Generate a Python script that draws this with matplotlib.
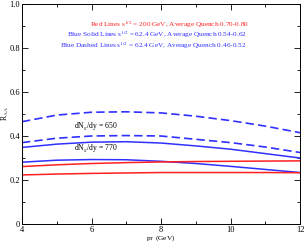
import matplotlib
matplotlib.use("Agg")
import matplotlib.pyplot as plt
from matplotlib.ticker import MultipleLocator

plt.rcParams['font.family'] = ['Liberation Serif', 'DejaVu Serif']
plt.rcParams['mathtext.fontset'] = 'stix'

pt = [4, 5, 6, 7, 8, 9, 10, 11, 12]

# blue dashed (62.4 GeV, quench 0.46-0.52)
dash_650 = [0.465, 0.495, 0.508, 0.510, 0.505, 0.490, 0.470, 0.445, 0.415]
dash_770 = [0.370, 0.390, 0.400, 0.402, 0.400, 0.385, 0.370, 0.350, 0.325]
# blue solid (62.4 GeV, quench 0.54-0.62)
solid_650 = [0.348, 0.363, 0.372, 0.374, 0.368, 0.355, 0.340, 0.320, 0.300]
solid_770 = [0.281, 0.290, 0.293, 0.292, 0.285, 0.275, 0.262, 0.248, 0.234]
# red (200 GeV, quench 0.70-0.80)
red_hi = [0.261, 0.269, 0.275, 0.279, 0.282, 0.284, 0.285, 0.286, 0.287]
red_lo = [0.223, 0.227, 0.230, 0.232, 0.234, 0.234, 0.234, 0.234, 0.233]

blue = '#3030ff'
red = '#ff2020'

fig = plt.figure(figsize=(3.05, 2.44), dpi=100)
ax = fig.add_axes([22/305, 20/244, 278/305, 220/244])

ax.plot(pt, dash_650, color=blue, lw=1.2, dashes=(5, 2.5))
ax.plot(pt, dash_770, color=blue, lw=1.2, dashes=(5, 2.5))
ax.plot(pt, solid_650, color=blue, lw=1.1)
ax.plot(pt, solid_770, color=blue, lw=1.1)
ax.plot(pt, red_hi, color=red, lw=1.1)
ax.plot(pt, red_lo, color=red, lw=1.1)

ax.set_xlim(4, 12)
ax.set_ylim(0, 1)
ax.xaxis.set_major_locator(MultipleLocator(2))
ax.xaxis.set_minor_locator(MultipleLocator(1))
ax.yaxis.set_major_locator(MultipleLocator(0.2))
ax.yaxis.set_minor_locator(MultipleLocator(0.1))
ax.tick_params(which='both', direction='in', top=True, right=True, labelsize=6, width=0.6, pad=1.5)
ax.tick_params(which='major', length=4)
ax.tick_params(which='minor', length=2)
ax.xaxis.set_major_formatter(plt.FuncFormatter(lambda v, p: '%d' % v))
ax.yaxis.set_major_formatter(plt.FuncFormatter(lambda v, p: '0' if v == 0 else ('1' if v == 1 else '%.1f' % v)))
for s in ax.spines.values():
    s.set_linewidth(0.7)

ax.set_xlabel(r'p$_\mathrm{T}$ (GeV)', fontsize=5.3)
ax.set_ylabel(r'R$_\mathrm{AA}$', fontsize=5.5)
ax.xaxis.set_label_coords(0.5, -0.043, transform=ax.transAxes)
ax.yaxis.set_label_coords(-0.04, 0.5, transform=ax.transAxes)

ax.text(0.817, 0.907, r'Red Lines s$^{1/2}$ = 200 GeV, Average Quench 0.70-0.80',
        color=red, fontsize=5.2, ha='right', va='center', transform=ax.transAxes)
ax.text(0.808, 0.86, r'Blue Solid Lines s$^{1/2}$ = 62.4 GeV, Average Quench 0.54-0.62',
        color=blue, fontsize=5.2, ha='right', va='center', transform=ax.transAxes)
ax.text(0.808, 0.81, r'Blue Dashed Lines s$^{1/2}$ = 62.4 GeV, Average Quench 0.46-0.52',
        color=blue, fontsize=5.2, ha='right', va='center', transform=ax.transAxes)

ax.text(5.5, 0.445, r'dN$_g$/dy = 650', fontsize=5.5, va='center')
ax.text(5.5, 0.343, r'dN$_g$/dy = 770', fontsize=5.5, va='center')

fig.savefig('out.png', dpi=100)
